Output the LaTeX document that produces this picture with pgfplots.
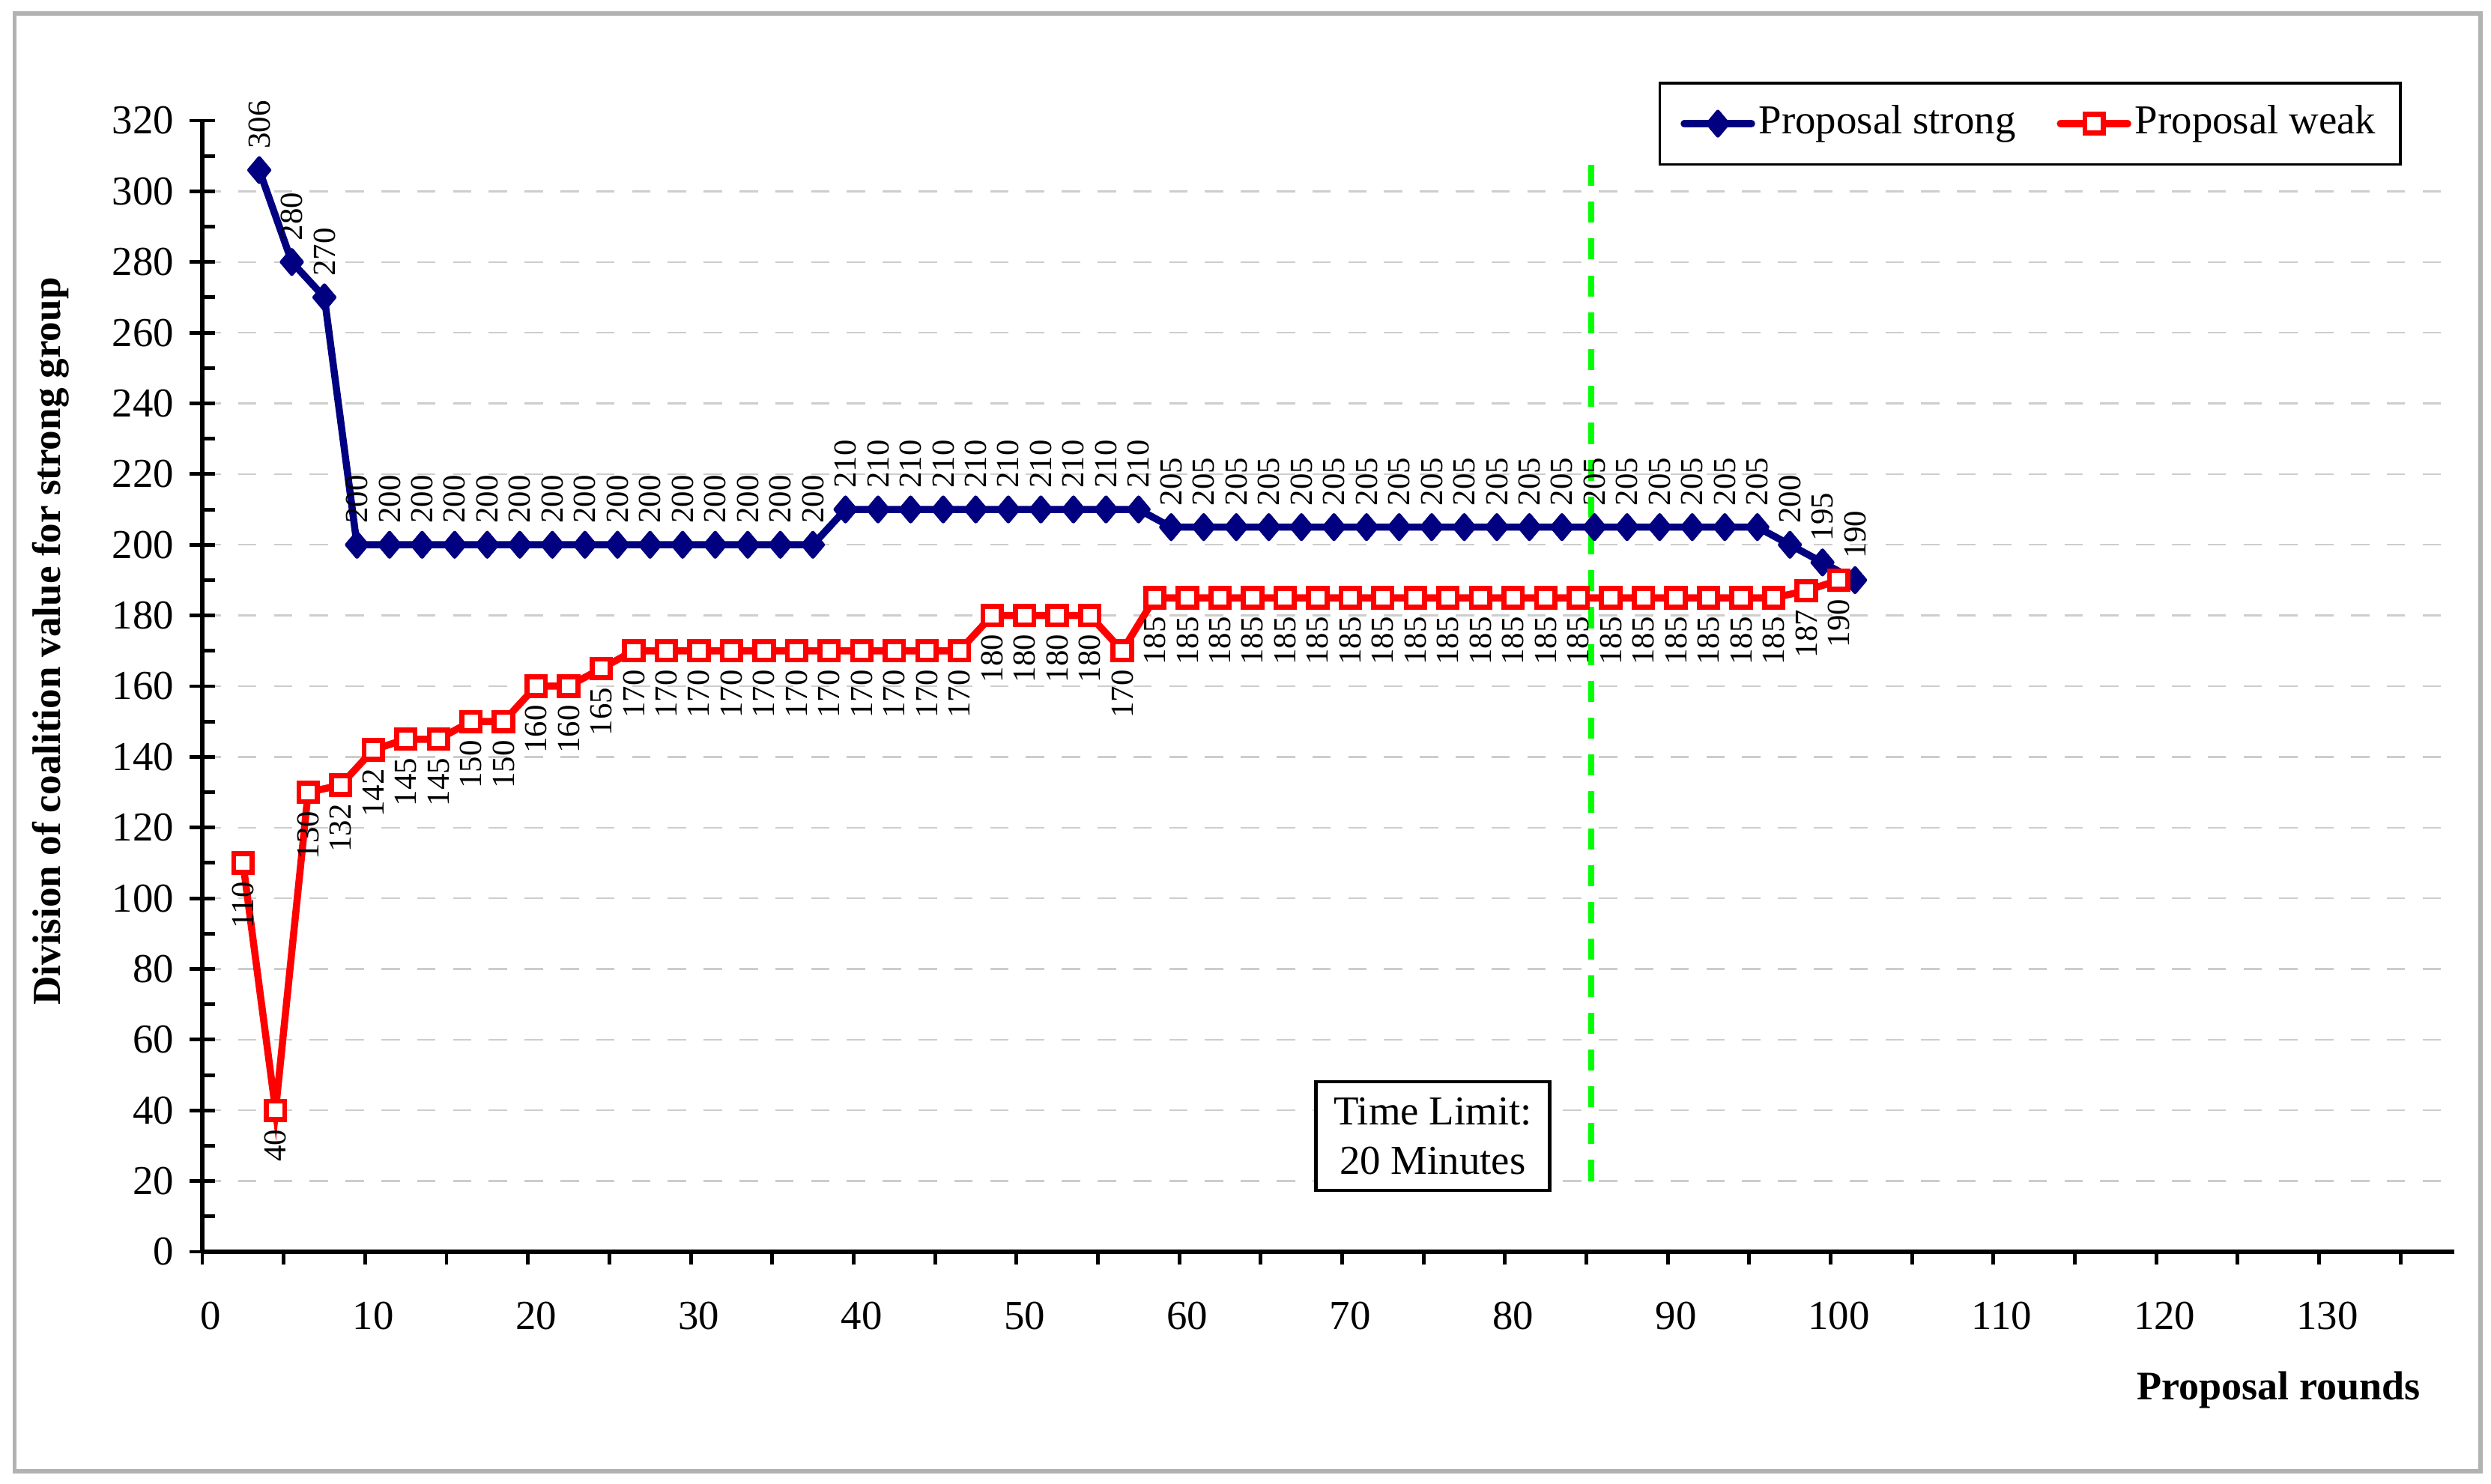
\documentclass[border=0pt]{standalone}
\usepackage{fontspec}
\setmainfont{Liberation Serif}
\usepackage{pgfplots}
\pgfplotsset{compat=1.18}
\definecolor{navyblue}{RGB}{0,0,128}
\definecolor{pureRed}{RGB}{255,0,0}
\definecolor{limeGreen}{RGB}{0,255,0}
\definecolor{gridgray}{RGB}{205,205,205}
\definecolor{bordergray}{RGB}{178,178,178}
\newcommand{\fs}[1]{\fontsize{#1}{#1}\selectfont}
\begin{document}
\begin{tikzpicture}
\useasboundingbox (-1.35cm,-1.55cm) rectangle (15.275cm,8.355cm);
\begin{axis}[
  scale only axis,
  width=15.03cm, height=7.55cm,
  xmin=-0.5, xmax=137.8,
  ymin=0, ymax=320,
  axis x line*=bottom, axis y line*=left,
  axis line style={line width=0.95pt, -},
  clip=false,
  /pgf/number format/assume math mode=true,
  tick align=center,
  major tick length=0.17cm,
  minor tick length=0.085cm,
  tick style={black, line width=0.7pt},
  xtick={0,10,...,130},
  minor xtick={-0.5,4.5,...,134.5},
  major x tick style={draw=none},
  minor x tick style={yshift=-0.0425cm},
  ytick={0,20,...,300},
  extra y ticks={320},
  extra y tick style={grid=none},
  minor ytick={10,30,...,310},
  minor y tick style={xshift=0.0425cm},
  ymajorgrids,
  grid style={gridgray, line width=0.35pt, dash pattern=on 3.5pt off 3.3pt},
  ticklabel style={font=\fs{7.8}},
  yticklabel style={xshift=0.02cm},
  xticklabel style={yshift=-0.125cm},
  xlabel={Proposal rounds},
  ylabel={Division of coalition value for strong group},
  every axis x label/.style={at={(axis description cs:0.9854,-0.1225)}, anchor=east, inner sep=0pt, font=\bfseries\fs{7.7}},
  every axis y label/.style={at={(axis description cs:-0.0672,0.5397)}, rotate=90, anchor=center, inner sep=0pt, font=\bfseries\fs{7.55}},
  legend columns=2,
  legend style={at={(axis description cs:0.9767,1.0344)}, anchor=north east, draw=black, line width=0.5pt,
    inner xsep=0.14cm, inner ysep=0.1cm, font=\fs{7.8},
    nodes={inner xsep=0.025cm, inner ysep=0.05cm},
    /tikz/every even column/.append style={column sep=0.25cm}},
  legend image code/.code={\draw[mark repeat=2, mark phase=2, line cap=round] plot coordinates {(0cm,0cm) (0.225cm,0cm) (0.45cm,0cm)};},
]
\addplot[navyblue, line width=1.35pt, mark=diamond*, mark size=2.3pt,
  mark options={solid, fill=navyblue, line width=0.7pt, line join=round, xscale=1.12},
  point meta=y, nodes near coords,
  every node near coord/.append style={rotate=90, anchor=west, font=\fs{6.1}, inner xsep=0.13cm, inner ysep=0pt, text=black}]
coordinates {
(3,306)(5,280)(7,270)
(9,200)(11,200)(13,200)(15,200)(17,200)(19,200)(21,200)(23,200)(25,200)(27,200)(29,200)(31,200)(33,200)(35,200)(37,200)
(39,210)(41,210)(43,210)(45,210)(47,210)(49,210)(51,210)(53,210)(55,210)(57,210)
(59,205)(61,205)(63,205)(65,205)(67,205)(69,205)(71,205)(73,205)(75,205)(77,205)(79,205)(81,205)(83,205)(85,205)(87,205)(89,205)(91,205)(93,205)(95,205)
(97,200)(99,195)(101,190)
};
\addlegendentry{Proposal strong}
\addplot[pureRed, line width=1.35pt, mark=square*, mark size=1.75pt,
  mark options={solid, fill=white, draw=pureRed, line width=0.95pt},
  point meta=y, nodes near coords,
  every node near coord/.append style={rotate=90, anchor=east, font=\fs{6.1}, inner xsep=0.11cm, inner ysep=0pt, text=black}]
coordinates {
(2,110)(4,40)(6,130)(8,132)(10,142)(12,145)(14,145)(16,150)(18,150)(20,160)(22,160)(24,165)
(26,170)(28,170)(30,170)(32,170)(34,170)(36,170)(38,170)(40,170)(42,170)(44,170)(46,170)
(48,180)(50,180)(52,180)(54,180)(56,170)
(58,185)(60,185)(62,185)(64,185)(66,185)(68,185)(70,185)(72,185)(74,185)(76,185)(78,185)(80,185)(82,185)(84,185)(86,185)(88,185)(90,185)(92,185)(94,185)(96,185)
(98,187)(100,190)
};
\addlegendentry{Proposal weak}
\addplot[limeGreen, line width=1.2pt, dash pattern=on 4pt off 3pt, forget plot] coordinates {(84.8,20) (84.8,310)};
\node[draw=black, line width=0.6pt, fill=white, align=center, minimum width=1.56cm, minimum height=0.725cm, inner sep=0pt, font=\fontsize{7.8}{9.4}\selectfont] at (axis cs:75.07,32.74) {Time Limit:\\20 Minutes};
\end{axis}
\draw[bordergray, line width=0.75pt] (-1.2525cm,-1.465cm) rectangle (15.205cm,8.265cm);
\end{tikzpicture}
\end{document}
